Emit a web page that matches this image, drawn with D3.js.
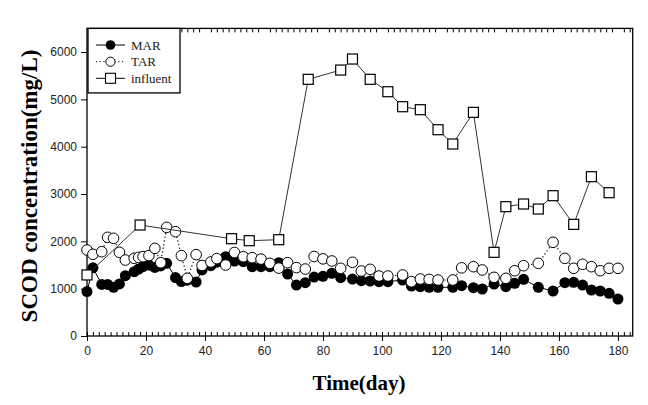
<!DOCTYPE html>
<html><head><meta charset="utf-8">
<script src="https://cdn.jsdelivr.net/npm/d3@7"></script>
<style>body{margin:0;background:#fff}svg{display:block}</style>
</head><body><svg id="c" width="648" height="405"></svg>
<script>
const days = [0,2,5,7,9,11,13,16,17.5,19,21,23,25,27,30,32,34,37,39,42,44,47,50,53,56,59,62,65,68,71,74,77,80,83,86,90,93,96,99,102,107,110,113,116,119,124,127,131,134,138,142,145,148,153,158,162,165,168,171,174,177,180];
const mar = [940,1440,1090,1090,1030,1100,1275,1360,1415,1465,1500,1450,1480,1535,1235,1150,1180,1140,1395,1485,1560,1676,1585,1570,1465,1465,1465,1549,1310,1077,1126,1245,1260,1324,1232,1204,1169,1162,1148,1148,1183,1056,1042,1029,1029,1029,1063,1021,993,1099,1042,1113,1197,1029,951,1127,1134,1077,972,951,902,782];
const tar = [1817,1726,1781,2085,2064,1768,1605,1641,1662,1676,1700,1852,1549,2296,2205,1698,1219,1720,1490,1565,1635,1500,1765,1676,1655,1625,1535,1435,1550,1445,1415,1680,1630,1585,1430,1557,1373,1409,1268,1268,1289,1148,1204,1197,1183,1183,1440,1465,1395,1240,1219,1380,1486,1535,1980,1641,1430,1515,1465,1380,1430,1430];
const infDays = [0,18,49,55,65,75,86,90,96,102,107,113,119,124,131,138,142,148,153,158,165,171,177];
const influent = [1290,2345,2056,2014,2035,5424,5620,5853,5424,5162,4845,4782,4359,4057,4726,1768,2733,2789,2683,2965,2359,3366,3028];
const xTicks = [0,20,40,60,80,100,120,140,160,180];
const yTicks = [0,1000,2000,3000,4000,5000,6000];
const seriesNames = ["MAR","TAR","influent"];

const svg = d3.select("#c");
const x = d3.scaleLinear().domain([0,185]).range([87,632.7]);
const y = d3.scaleLinear().domain([0,6500]).range([336,28.4]);
const X0=87,X1=632.7,Y0=336,Y1=28.4;

// minor ticks
const minor = d3.range(0,185,2);
svg.append("g").attr("transform",`translate(0,${Y0})`)
  .call(d3.axisBottom(x).tickValues(minor).tickSize(-4).tickSizeOuter(0).tickFormat(""))
  .call(g=>g.select(".domain").remove());
svg.append("g").attr("transform",`translate(0,${Y1})`)
  .call(d3.axisTop(x).tickValues(minor.filter(v=>v%20!==0)).tickSize(-4).tickSizeOuter(0).tickFormat(""))
  .call(g=>g.select(".domain").remove());
// major x
svg.append("g").attr("transform",`translate(0,${Y0})`)
  .call(d3.axisBottom(x).tickValues(xTicks).tickSize(5).tickSizeOuter(0).tickPadding(5).tickFormat(d3.format("d")))
  .call(g=>g.select(".domain").remove())
  .call(g=>g.selectAll("text").attr("font-family","Liberation Sans, Arial").attr("font-size",12).attr("fill","#222"));
// major y
svg.append("g").attr("transform",`translate(${X0},0)`)
  .call(d3.axisLeft(y).tickValues(yTicks).tickSize(6).tickSizeOuter(0).tickPadding(4).tickFormat(d3.format("d")))
  .call(g=>g.select(".domain").remove())
  .call(g=>g.selectAll("text").attr("font-family","Liberation Sans, Arial").attr("font-size",12).attr("fill","#222"));
svg.selectAll(".tick line").attr("stroke","#000");

// frame
svg.append("rect").attr("x",X0).attr("y",Y1).attr("width",X1-X0).attr("height",Y0-Y1)
  .attr("fill","none").attr("stroke","#000").attr("stroke-width",1.3);

const line = d3.line();
const marPts = days.map((d,i)=>[x(d),y(mar[i])]);
const tarPts = days.map((d,i)=>[x(d),y(tar[i])]);
const infPts = infDays.map((d,i)=>[x(d),y(influent[i])]);

svg.append("path").attr("d",line(marPts)).attr("fill","none").attr("stroke","#000").attr("stroke-width",1);
svg.append("g").selectAll("circle").data(marPts).join("circle")
  .attr("cx",d=>d[0]).attr("cy",d=>d[1]).attr("r",5.5).attr("fill","#000");

svg.append("path").attr("d",line(tarPts)).attr("fill","none").attr("stroke","#000").attr("stroke-width",1.2).attr("stroke-dasharray","1.2,2.5");
svg.append("g").selectAll("circle").data(tarPts).join("circle")
  .attr("cx",d=>d[0]).attr("cy",d=>d[1]).attr("r",5.3).attr("fill","#fff").attr("stroke","#000").attr("stroke-width",1);

svg.append("path").attr("d",line(infPts)).attr("fill","none").attr("stroke","#333").attr("stroke-width",1);
svg.append("g").selectAll("rect").data(infPts).join("rect")
  .attr("x",d=>d[0]-5).attr("y",d=>d[1]-5).attr("width",10).attr("height",10)
  .attr("fill","#fff").attr("stroke","#000").attr("stroke-width",1.2);

// legend
const lg = svg.append("g");
lg.append("rect").attr("x",88).attr("y",Y1).attr("width",92).attr("height",64.5)
  .attr("fill","#fff").attr("stroke","#000").attr("stroke-width",1.3);
const ly = [45,61.7,78.3];
seriesNames.forEach((n,i)=>{
  const yy = ly[i];
  const ln = lg.append("line").attr("x1",96).attr("x2",125).attr("y1",yy).attr("y2",yy).attr("stroke","#000").attr("stroke-width",1);
  if(i===1) ln.attr("stroke-dasharray","1.2,2.5");
  if(i===0) lg.append("circle").attr("cx",110.5).attr("cy",yy).attr("r",4.8).attr("fill","#000");
  if(i===1) lg.append("circle").attr("cx",110.5).attr("cy",yy).attr("r",4.6).attr("fill","#fff").attr("stroke","#000");
  if(i===2) lg.append("rect").attr("x",105.5).attr("y",yy-5).attr("width",10).attr("height",10).attr("fill","#fff").attr("stroke","#000").attr("stroke-width",1.1);
  lg.append("text").attr("x",131).attr("y",yy+4.5).text(n)
    .attr("font-family","Liberation Serif, Times New Roman").attr("font-size",13).attr("fill","#222");
});

// axis titles
svg.append("text").attr("x",359).attr("y",390).attr("text-anchor","middle")
  .attr("font-family","Liberation Serif, Times New Roman").attr("font-weight","bold").attr("font-size",21)
  .text("Time(day)");
svg.append("text").attr("transform","translate(37,186) rotate(-90)").attr("text-anchor","middle")
  .attr("font-family","Liberation Serif, Times New Roman").attr("font-weight","bold").attr("font-size",23)
  .text("SCOD concentration(mg/L)");
</script></body></html>
